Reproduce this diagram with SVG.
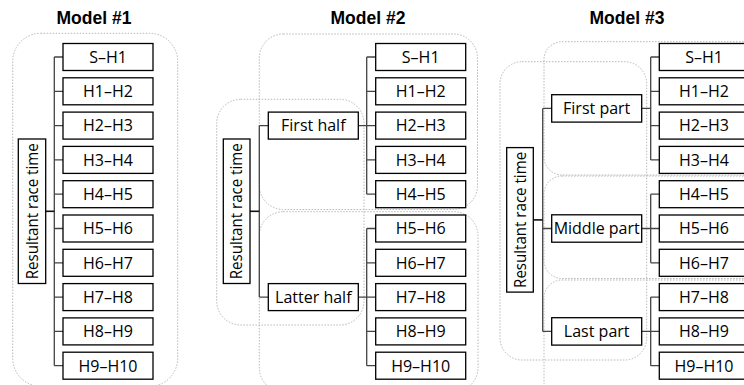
<svg xmlns="http://www.w3.org/2000/svg" width="744" height="385" viewBox="0 0 744 385">
<style>
.bg{fill:#fff}
.grp{fill:none;stroke:#b8b8b8;stroke-width:1;stroke-dasharray:1.5 1.5}
.box{fill:#fff;stroke:#000;stroke-width:1.3}
.t{font-family:"Open Sans","Noto Sans",sans-serif;font-size:16px;fill:#000;text-anchor:middle}
.v{font-size:15.5px}
.title{font-family:"Liberation Sans",Arial,sans-serif;font-size:17.5px;font-weight:bold;fill:#000;text-anchor:middle}
.c{fill:none;stroke:#444;stroke-width:1.3}
.r{fill:none;stroke:#111;stroke-width:1.6}
</style>
<rect class="bg" x="0" y="0" width="744" height="385"/>
<g id="titles">
<text class="title" x="94" y="23.5">Model #1</text>
<text class="title" x="368" y="23.5">Model #2</text>
<text class="title" x="627" y="23.5">Model #3</text>
</g>
<g id="groups">
<rect class="grp" x="12.7" y="33.3" width="165" height="353" rx="28"/>
<rect class="grp" x="216.7" y="99.3" width="147.3" height="225.7" rx="24"/>
<rect class="grp" x="259.3" y="34" width="218.2" height="175.5" rx="24"/>
<rect class="grp" x="259.3" y="211.7" width="218.7" height="180" rx="24"/>
<rect class="grp" x="500" y="61.7" width="146.7" height="298.3" rx="22"/>
<rect class="grp" x="544" y="41.7" width="220" height="133.3" rx="18"/>
<rect class="grp" x="544" y="176" width="220" height="102.5" rx="18"/>
<rect class="grp" x="544" y="280" width="220" height="120" rx="18"/>
</g>
<g id="connectors">
<path class="c" d="M54.3 57V365.7M54.3 57H63M54.3 91.3H63M54.3 125.6H63M54.3 159.9H63M54.3 194.2H63M54.3 228.5H63M54.3 262.8H63M54.3 297.1H63M54.3 331.4H63M54.3 365.7H63"/>
<path class="r" d="M45.7 211.3H54.3"/>
<path class="c" d="M259.3 125.6V297.1M259.3 125.6H268.3M259.3 297.1H268.3"/>
<path class="r" d="M250 211.3H259.3"/>
<path class="c" d="M366.7 57V194.2M358.3 125.6H375.7M366.7 57H375.7M366.7 91.3H375.7M366.7 159.9H375.7M366.7 194.2H375.7"/>
<path class="c" d="M366.7 228.5V365.7M358.3 297.1H375.7M366.7 228.5H375.7M366.7 262.8H375.7M366.7 331.4H375.7M366.7 365.7H375.7"/>
<path class="c" d="M542.7 108.4V331.4M542.7 108.4H551.7M542.7 228.5H551.7M542.7 331.4H551.7"/>
<path class="r" d="M533.3 219.9H542.7"/>
<path class="c" d="M650.7 57V159.9M641.7 108.4H650.7M650.7 57H659.3M650.7 91.3H659.3M650.7 125.6H659.3M650.7 159.9H659.3"/>
<path class="c" d="M650.7 194.2V262.8M641.7 228.5H659.3M650.7 194.2H659.3M650.7 262.8H659.3"/>
<path class="c" d="M650.7 297.1V365.7M641.7 331.4H659.3M650.7 297.1H659.3M650.7 365.7H659.3"/>
</g>
<g id="m1-root"><rect class="box" x="18.3" y="139" width="27.4" height="144.5"/><text class="t v" transform="translate(32,211.3) rotate(-90)" y="5.5" textLength="136" lengthAdjust="spacingAndGlyphs">Resultant race time</text></g>
<g id="m1-l0"><rect class="box" x="63" y="43.5" width="90" height="27"/><text class="t" x="108" y="62.8">S–H1</text></g>
<g id="m1-l1"><rect class="box" x="63" y="77.8" width="90" height="27"/><text class="t" x="108" y="97.1">H1–H2</text></g>
<g id="m1-l2"><rect class="box" x="63" y="112.1" width="90" height="27"/><text class="t" x="108" y="131.4">H2–H3</text></g>
<g id="m1-l3"><rect class="box" x="63" y="146.4" width="90" height="27"/><text class="t" x="108" y="165.7">H3–H4</text></g>
<g id="m1-l4"><rect class="box" x="63" y="180.7" width="90" height="27"/><text class="t" x="108" y="200">H4–H5</text></g>
<g id="m1-l5"><rect class="box" x="63" y="215" width="90" height="27"/><text class="t" x="108" y="234.3">H5–H6</text></g>
<g id="m1-l6"><rect class="box" x="63" y="249.3" width="90" height="27"/><text class="t" x="108" y="268.6">H6–H7</text></g>
<g id="m1-l7"><rect class="box" x="63" y="283.6" width="90" height="27"/><text class="t" x="108" y="302.9">H7–H8</text></g>
<g id="m1-l8"><rect class="box" x="63" y="317.9" width="90" height="27"/><text class="t" x="108" y="337.2">H8–H9</text></g>
<g id="m1-l9"><rect class="box" x="63" y="352.2" width="90" height="27"/><text class="t" x="108" y="371.5">H9–H10</text></g>
<g id="m2-root"><rect class="box" x="223.3" y="139" width="26.7" height="144.5"/><text class="t v" transform="translate(236.7,211.3) rotate(-90)" y="5.5" textLength="136" lengthAdjust="spacingAndGlyphs">Resultant race time</text></g>
<g id="m2-first"><rect class="box" x="268.3" y="112.1" width="90" height="27"/><text class="t" x="313.3" y="131.4">First half</text></g>
<g id="m2-latter"><rect class="box" x="268.3" y="283.6" width="90" height="27"/><text class="t" x="313.3" y="302.9">Latter half</text></g>
<g id="m2-l0"><rect class="box" x="375.7" y="43.5" width="90" height="27"/><text class="t" x="420.7" y="62.8">S–H1</text></g>
<g id="m2-l1"><rect class="box" x="375.7" y="77.8" width="90" height="27"/><text class="t" x="420.7" y="97.1">H1–H2</text></g>
<g id="m2-l2"><rect class="box" x="375.7" y="112.1" width="90" height="27"/><text class="t" x="420.7" y="131.4">H2–H3</text></g>
<g id="m2-l3"><rect class="box" x="375.7" y="146.4" width="90" height="27"/><text class="t" x="420.7" y="165.7">H3–H4</text></g>
<g id="m2-l4"><rect class="box" x="375.7" y="180.7" width="90" height="27"/><text class="t" x="420.7" y="200">H4–H5</text></g>
<g id="m2-l5"><rect class="box" x="375.7" y="215" width="90" height="27"/><text class="t" x="420.7" y="234.3">H5–H6</text></g>
<g id="m2-l6"><rect class="box" x="375.7" y="249.3" width="90" height="27"/><text class="t" x="420.7" y="268.6">H6–H7</text></g>
<g id="m2-l7"><rect class="box" x="375.7" y="283.6" width="90" height="27"/><text class="t" x="420.7" y="302.9">H7–H8</text></g>
<g id="m2-l8"><rect class="box" x="375.7" y="317.9" width="90" height="27"/><text class="t" x="420.7" y="337.2">H8–H9</text></g>
<g id="m2-l9"><rect class="box" x="375.7" y="352.2" width="90" height="27"/><text class="t" x="420.7" y="371.5">H9–H10</text></g>
<g id="m3-root"><rect class="box" x="506.7" y="147.6" width="26.6" height="144.5"/><text class="t v" transform="translate(520,219.9) rotate(-90)" y="5.5" textLength="136" lengthAdjust="spacingAndGlyphs">Resultant race time</text></g>
<g id="m3-first"><rect class="box" x="551.7" y="94.7" width="90" height="27.4"/><text class="t" x="596.7" y="114">First part</text></g>
<g id="m3-middle"><rect class="box" x="551.7" y="214.8" width="90" height="27.4"/><text class="t" x="596.7" y="234.1">Middle part</text></g>
<g id="m3-last"><rect class="box" x="551.7" y="317.7" width="90" height="27.4"/><text class="t" x="596.7" y="337">Last part</text></g>
<g id="m3-l0"><rect class="box" x="659.3" y="43.5" width="90" height="27"/><text class="t" x="704" y="62.8">S–H1</text></g>
<g id="m3-l1"><rect class="box" x="659.3" y="77.8" width="90" height="27"/><text class="t" x="704" y="97.1">H1–H2</text></g>
<g id="m3-l2"><rect class="box" x="659.3" y="112.1" width="90" height="27"/><text class="t" x="704" y="131.4">H2–H3</text></g>
<g id="m3-l3"><rect class="box" x="659.3" y="146.4" width="90" height="27"/><text class="t" x="704" y="165.7">H3–H4</text></g>
<g id="m3-l4"><rect class="box" x="659.3" y="180.7" width="90" height="27"/><text class="t" x="704" y="200">H4–H5</text></g>
<g id="m3-l5"><rect class="box" x="659.3" y="215" width="90" height="27"/><text class="t" x="704" y="234.3">H5–H6</text></g>
<g id="m3-l6"><rect class="box" x="659.3" y="249.3" width="90" height="27"/><text class="t" x="704" y="268.6">H6–H7</text></g>
<g id="m3-l7"><rect class="box" x="659.3" y="283.6" width="90" height="27"/><text class="t" x="704" y="302.9">H7–H8</text></g>
<g id="m3-l8"><rect class="box" x="659.3" y="317.9" width="90" height="27"/><text class="t" x="704" y="337.2">H8–H9</text></g>
<g id="m3-l9"><rect class="box" x="659.3" y="352.2" width="90" height="27"/><text class="t" x="704" y="371.5">H9–H10</text></g>
</svg>
